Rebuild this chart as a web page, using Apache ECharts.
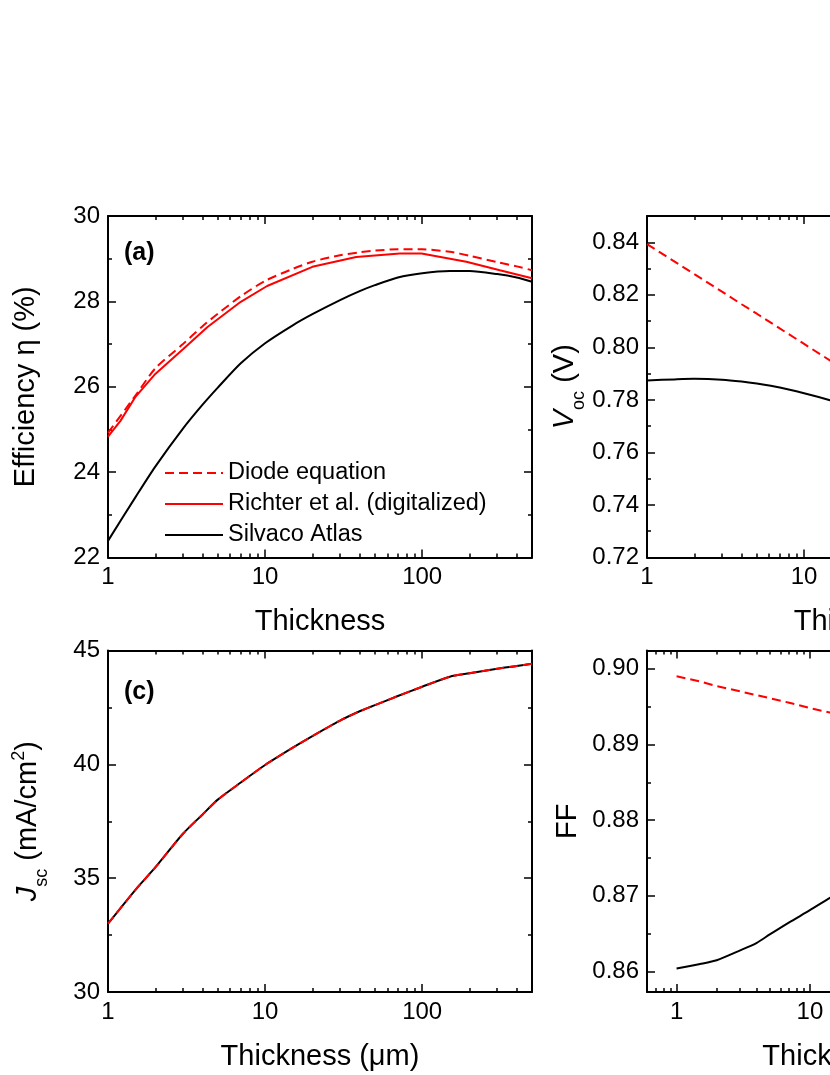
<!DOCTYPE html>
<html><head><meta charset="utf-8">
<script src="https://cdn.jsdelivr.net/npm/echarts@6/dist/echarts.min.js"></script>
<style>html,body{margin:0;padding:0;overflow:hidden;background:#fff;width:830px;height:1075px}
#c{width:1100px;height:1075px}</style></head>
<body><div id="c"></div>
<script>
// ---------------- data ----------------
const thickness = [1, 1.5, 2, 3, 4, 5, 7, 10, 15, 20, 30, 40, 50, 70, 100, 150, 200, 300, 400, 500];
// (a) efficiency (%)
const effDiode   = [24.92, 25.80, 26.43, 27.00, 27.42, 27.71, 28.12, 28.48, 28.76, 28.93, 29.08, 29.15, 29.19, 29.22, 29.22, 29.16, 29.07, 28.92, 28.82, 28.73];
const effSilvaco = [22.39, 23.42, 24.13, 25.02, 25.58, 25.98, 26.55, 27.02, 27.44, 27.70, 28.03, 28.24, 28.38, 28.56, 28.66, 28.71, 28.71, 28.64, 28.56, 28.46];
const thickRichter = [1, 1.2, 1.5, 2, 3, 4.3, 7, 10.3, 20, 38, 72, 99, 191, 312, 500];
const effRichter   = [24.83, 25.20, 25.77, 26.30, 26.88, 27.40, 27.99, 28.36, 28.81, 29.04, 29.12, 29.12, 28.93, 28.73, 28.54];
// (b) Voc (V)
const vocDiode   = [0.8393, 0.8326, 0.8279, 0.8212, 0.8164, 0.8128, 0.8072, 0.8013, 0.7946, 0.7899, 0.7832, 0.7785, 0.7748, 0.7693, 0.7636, 0.7570, 0.7524, 0.7457, 0.7410, 0.7375];
const vocSilvaco = [0.7874, 0.7878, 0.7880, 0.7877, 0.7870, 0.7862, 0.7847, 0.7825, 0.7797, 0.7775, 0.7740, 0.7712, 0.7690, 0.7655, 0.7618, 0.7575, 0.7545, 0.7500, 0.7470, 0.7445];
// (c) Jsc (mA/cm2)
const jscDiode   = [33.00, 34.50, 35.47, 36.95, 37.80, 38.45, 39.20, 39.97, 40.73, 41.24, 41.92, 42.33, 42.60, 43.00, 43.41, 43.85, 44.00, 44.20, 44.32, 44.42];
const jscSilvaco = [33.00, 34.50, 35.47, 36.95, 37.80, 38.45, 39.20, 39.97, 40.73, 41.24, 41.92, 42.33, 42.60, 43.00, 43.41, 43.85, 44.00, 44.20, 44.32, 44.42];
// (d) FF
const ffDiode   = [0.8990, 0.8983, 0.8977, 0.8970, 0.8965, 0.8961, 0.8955, 0.8948, 0.8941, 0.8936, 0.8929, 0.8923, 0.8920, 0.8913, 0.8907, 0.8900, 0.8894, 0.8887, 0.8882, 0.8878];
const ffSilvaco = [0.8604, 0.8610, 0.8615, 0.8628, 0.8638, 0.8649, 0.8665, 0.8681, 0.8700, 0.8712, 0.8728, 0.8738, 0.8745, 0.8755, 0.8763, 0.8770, 0.8773, 0.8776, 0.8777, 0.8777];

// tick values
const xMajorTicks = [1, 10, 100];
const xMinorTicks = [2, 3, 4, 5, 6, 7, 8, 9, 20, 30, 40, 50, 60, 70, 80, 90, 200, 300, 400, 500];
const xMinorTicksD = [0.6, 0.7, 0.8, 0.9, 2, 3, 4, 5, 6, 7, 8, 9, 20, 30, 40, 50, 60, 70, 80, 90, 200, 300, 400, 500, 600, 700, 800, 900];
const yMajorA = [22, 24, 26, 28, 30];
const yMinorA = [23, 25, 27, 29];
const yMajorB = [0.72, 0.74, 0.76, 0.78, 0.80, 0.82, 0.84];
const yMinorB = [0.73, 0.75, 0.77, 0.79, 0.81, 0.83, 0.85];
const yMajorC = [30, 35, 40, 45];
const yMinorC = [32.5, 37.5, 42.5];
const yMajorD = [0.86, 0.87, 0.88, 0.89, 0.90];
const yMinorD = [0.865, 0.875, 0.885, 0.895];

const legendNames = ['Diode equation', 'Richter et al. (digitalized)', 'Silvaco Atlas'];

// ---------------- styling ----------------
const FONT = '"Liberation Sans", Arial, Helvetica, sans-serif';
const RED = '#ff0000', BLACK = '#000000';
const TICKFS = 24, NAMEFS = 29;
const zip = (xs, ys) => xs.map((x, i) => [x, ys[i]]);

const richName = {
  i: { fontStyle: 'italic', fontSize: NAMEFS, fontFamily: FONT, color: '#000', lineHeight: 46 },
  s: { fontSize: 18, fontFamily: FONT, color: '#000', verticalAlign: 'bottom' },
  p: { fontSize: 18, fontFamily: FONT, color: '#000', verticalAlign: 'top', padding: [5, 0, 0, 0] }
};

const panels = [
  { grid: { left: 108, top: 216, width: 424, height: 341.5 }, xmin: 1, xmax: 500, xMinor: xMinorTicks,
    ymin: 22, ymax: 30, yMajor: yMajorA, yMinor: yMinorA, yFmt: v => String(v),
    xName: 'Thickness', yName: 'Efficiency η (%)', yNameGap: 68, rich: false,
    series: [
      { name: 'Silvaco Atlas', x: thickness, y: effSilvaco, color: BLACK, dash: 'solid', smooth: true },
      { name: 'Richter et al. (digitalized)', x: thickRichter, y: effRichter, color: RED, dash: 'solid', smooth: false },
      { name: 'Diode equation', x: thickness, y: effDiode, color: RED, dash: [9, 5], smooth: true }
    ] },
  { grid: { left: 647, top: 216, width: 424, height: 341.5 }, xmin: 1, xmax: 500, xMinor: xMinorTicks,
    ymin: 0.72, ymax: 0.85, yMajor: yMajorB, yMinor: yMinorB, yFmt: v => v.toFixed(2),
    xName: 'Thickness', yName: '{i|V}{s|oc} (V)', yNameGap: 59, rich: true,
    series: [
      { name: 'Silvaco Atlas', x: thickness, y: vocSilvaco, color: BLACK, dash: 'solid', smooth: true },
      { name: 'Diode equation', x: thickness, y: vocDiode, color: RED, dash: [9, 5], smooth: false }
    ] },
  { grid: { left: 108, top: 650.5, width: 424, height: 341.5 }, xmin: 1, xmax: 500, xMinor: xMinorTicks,
    ymin: 30, ymax: 45, yMajor: yMajorC, yMinor: yMinorC, yFmt: v => String(v),
    xName: 'Thickness (μm)', yName: '{i|J}{s|sc} (mA/cm{p|2})', yNameGap: 57, rich: true,
    series: [
      { name: 'Silvaco Atlas', x: thickness, y: jscSilvaco, color: BLACK, dash: 'solid', smooth: true },
      { name: 'Diode equation', x: thickness, y: jscDiode, color: RED, dash: [9, 5], smooth: true }
    ] },
  { grid: { left: 647, top: 650.5, width: 429.5, height: 341.5 }, xmin: 0.6, xmax: 1000, xMinor: xMinorTicksD,
    ymin: 0.8573, ymax: 0.9024, yMajor: yMajorD, yMinor: yMinorD, yFmt: v => v.toFixed(2),
    xName: 'Thickness (μm)', yName: 'FF', yNameGap: 65, rich: false,
    series: [
      { name: 'Silvaco Atlas', x: thickness, y: ffSilvaco, color: BLACK, dash: 'solid', smooth: true },
      { name: 'Diode equation', x: thickness, y: ffDiode, color: RED, dash: [9, 5], smooth: false }
    ] }
];

const solidIcon = 'path://M0,0H58V2H0Z';
const dashIcon = 'path://M0,0H9V2H0Z M14,0H23V2H14Z M28,0H37V2H28Z M42,0H51V2H42Z M56,0H58V2H56Z';

const option = {
  animation: false,
  backgroundColor: '#ffffff',
  textStyle: { fontFamily: FONT },
  title: [
    { text: '(a)', left: 119, top: 236, padding: 5, textStyle: { fontSize: 25, fontWeight: 'bold', fontFamily: FONT, color: '#000' } },
    { text: '(c)', left: 119, top: 675, padding: 5, textStyle: { fontSize: 25, fontWeight: 'bold', fontFamily: FONT, color: '#000' } }
  ],
  legend: {
    data: [
      { name: legendNames[0], icon: dashIcon },
      { name: legendNames[1], icon: solidIcon },
      { name: legendNames[2], icon: solidIcon }
    ],
    orient: 'vertical', left: 160, top: 456, itemWidth: 58, itemHeight: 2, itemGap: 7,
    selectedMode: false, padding: 5,
    textStyle: { fontSize: 23.5, fontFamily: FONT, color: '#000' }
  },
  grid: [], xAxis: [], yAxis: [], series: []
};

const tickLine = { color: '#000', width: 1.5 };
const axLine = (show) => ({ show: show, onZero: false, lineStyle: { color: '#000', width: 2 } });

panels.forEach((p, gi) => {
  option.grid.push(p.grid);
  const lmin = Math.log10(p.xmin), lmax = Math.log10(p.xmax);
  const lg = arr => arr.map(v => Math.log10(v));

  // data x axis (log, hidden)
  const xDataIdx = option.xAxis.length;
  option.xAxis.push({ type: 'log', logBase: 10, gridIndex: gi, min: p.xmin, max: p.xmax, show: false, position: 'bottom' });

  // tick axes in log space
  const xTick = (pos, vals, len, line, labels) => {
    const ax = { type: 'value', gridIndex: gi, position: pos, min: lmin, max: lmax, silent: true,
      splitLine: { show: false }, minorTick: { show: false }, axisLine: axLine(line),
      axisTick: { show: true, inside: true, length: len, customValues: lg(vals), lineStyle: tickLine },
      axisLabel: { show: false } };
    if (labels) {
      ax.axisLabel = { show: true, customValues: lg(xMajorTicks), margin: 8, fontSize: TICKFS, fontFamily: FONT, color: '#000',
        formatter: v => String(Math.round(Math.pow(10, v))) };
      ax.name = p.xName; ax.nameLocation = 'middle'; ax.nameGap = 50;
      ax.nameTextStyle = { fontSize: NAMEFS, fontFamily: FONT, color: '#000' };
    }
    return ax;
  };
  option.xAxis.push(xTick('bottom', xMajorTicks, 8, true, true));
  option.xAxis.push(xTick('bottom', p.xMinor, 4, false, false));
  option.xAxis.push(xTick('top', xMajorTicks, 8, true, false));
  option.xAxis.push(xTick('top', p.xMinor, 4, false, false));

  // y axes
  const yTick = (pos, vals, len, line, labels) => {
    const ax = { type: 'value', gridIndex: gi, position: pos, min: p.ymin, max: p.ymax,
      splitLine: { show: false }, minorTick: { show: false }, axisLine: axLine(line),
      axisTick: { show: true, inside: true, length: len, customValues: vals, lineStyle: tickLine },
      axisLabel: { show: false } };
    if (labels) {
      ax.axisLabel = { show: true, customValues: p.yMajor, margin: 8, fontSize: TICKFS, fontFamily: FONT, color: '#000', formatter: p.yFmt };
      ax.name = p.yName; ax.nameLocation = 'middle'; ax.nameGap = p.yNameGap;
      ax.nameTextStyle = { fontSize: NAMEFS, fontFamily: FONT, color: '#000' };
      if (p.rich) { ax.nameTextStyle.lineHeight = 46; ax.nameTextStyle.rich = richName; }
    }
    return ax;
  };
  const yDataIdx = option.yAxis.length;
  option.yAxis.push(yTick('left', p.yMajor, 8, true, true));
  option.yAxis.push(yTick('left', p.yMinor, 4, false, false));
  option.yAxis.push(yTick('right', p.yMajor, 8, true, false));
  option.yAxis.push(yTick('right', p.yMinor, 4, false, false));

  p.series.forEach(s => {
    option.series.push({
      type: 'line', name: s.name, xAxisIndex: xDataIdx, yAxisIndex: yDataIdx,
      data: zip(s.x, s.y), showSymbol: false, symbol: 'none', smooth: s.smooth ? 0.25 : false, silent: true,
      lineStyle: { color: s.color, width: 2, type: s.dash }, itemStyle: { color: s.color }
    });
  });
});

const chart = echarts.init(document.getElementById('c'), null, { renderer: 'canvas' });
chart.setOption(option);
</script>
</body></html>
